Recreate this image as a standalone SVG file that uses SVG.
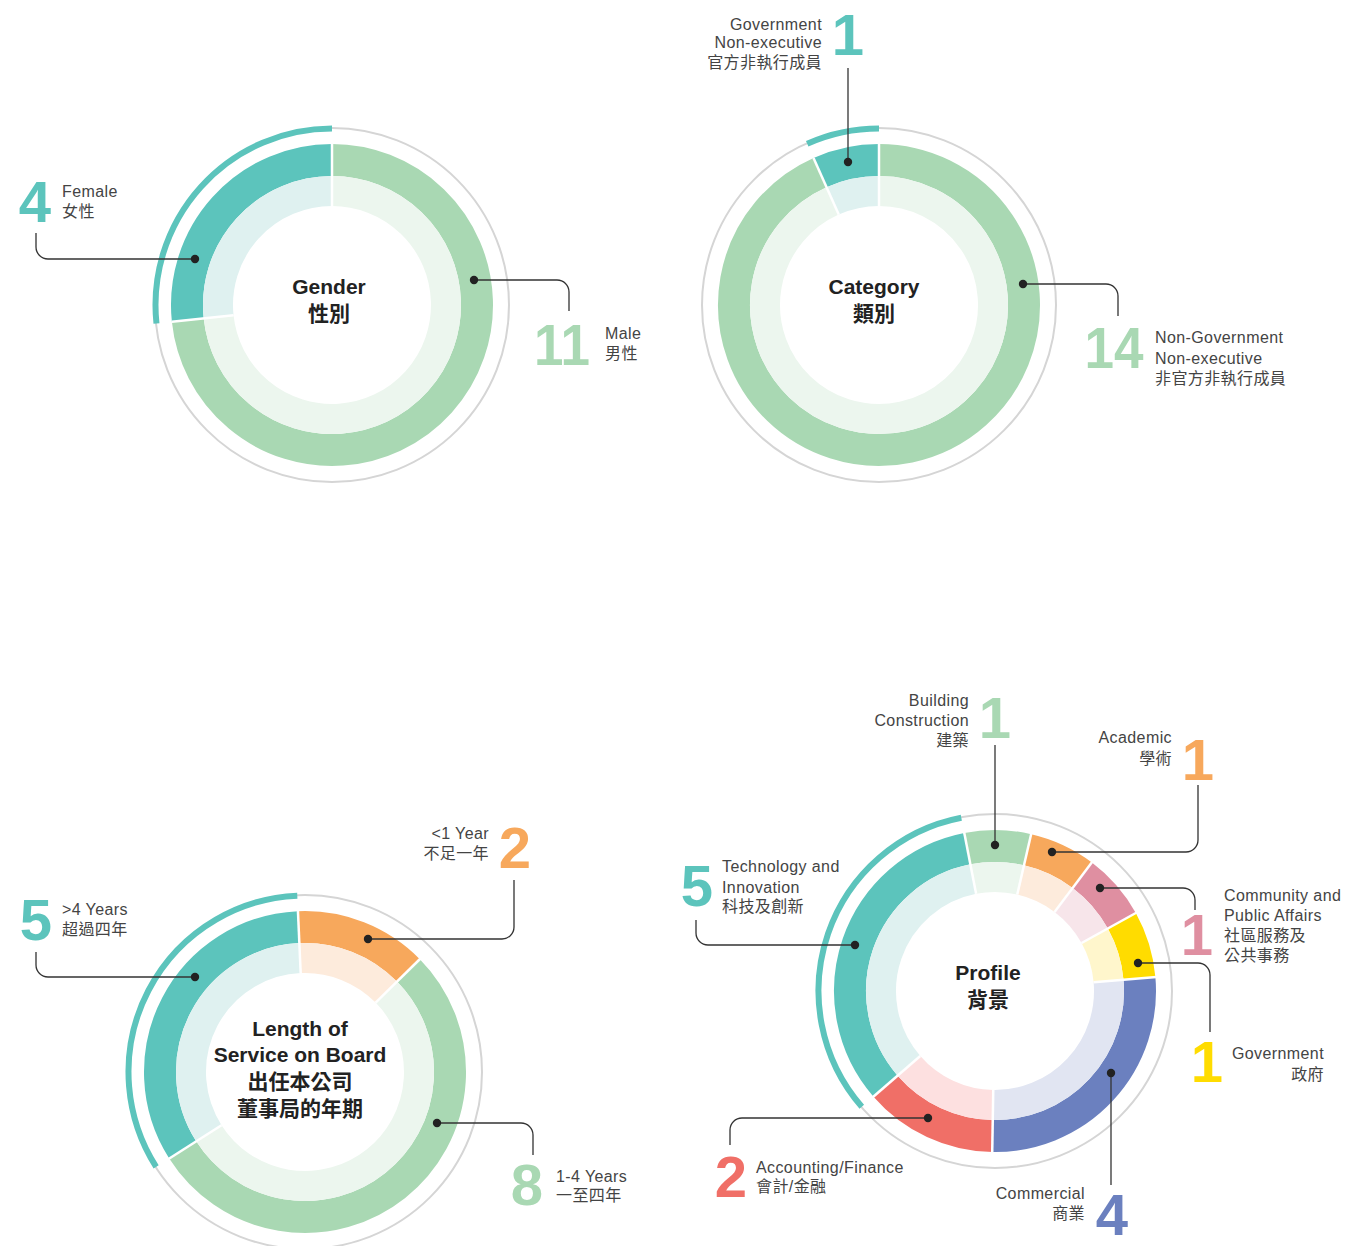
<svg xmlns="http://www.w3.org/2000/svg" width="1370" height="1246" viewBox="0 0 1370 1246">
<style>
.bg{fill:#ffffff}
.ring{fill:none;stroke:#d5d5d5;stroke-width:2}
.d{fill:none;stroke-width:32}
.l{fill:none;stroke-width:30}
.hl{fill:none;stroke:#5cc4bc;stroke-width:6}
.sep{stroke:#ffffff;stroke-width:2.5}
.teal{stroke:#5cc4bc}.tealL{stroke:#dff1f0}
.green{stroke:#a9d8b3}.greenL{stroke:#ecf6ee}
.orange{stroke:#f7a85c}.orangeL{stroke:#fdebdc}
.pink{stroke:#df8fa1}.pinkL{stroke:#f7e5ea}
.yellow{stroke:#ffdc00}.yellowL{stroke:#fff6cc}
.blue{stroke:#6b80bf}.blueL{stroke:#e1e5f2}
.red{stroke:#f06f67}.redL{stroke:#fde0e0}
.title{font-family:"Liberation Sans","Noto Sans CJK TC",sans-serif;font-weight:bold;font-size:21px;fill:#222;text-anchor:middle}
.lab{font-family:"Liberation Sans","Noto Sans CJK TC",sans-serif;font-size:16px;fill:#444;letter-spacing:0.4px}
.end{text-anchor:end}
.num{font-family:"Liberation Sans",sans-serif;font-weight:bold;font-size:58px;text-anchor:middle}
.lead{fill:none;stroke:#333;stroke-width:1.3}
.dot{fill:#222}
</style>
<rect class="bg" x="0" y="0" width="1370" height="1246"/>

<!-- Gender chart -->
<g id="gender-chart">
<circle class="ring" cx="332" cy="305" r="177"/>
<path class="d teal" d="M187.79,320.16 A145,145 0 0 1 332,160"/>
<path class="d green" d="M332,160 A145,145 0 1 1 187.79,320.16"/>
<path class="l tealL" d="M218.62,316.92 A114,114 0 0 1 332,191"/>
<path class="l greenL" d="M332,191 A114,114 0 1 1 218.62,316.92"/>
<line class="sep" x1="332" y1="206" x2="332" y2="143"/>
<line class="sep" x1="233.54" y1="315.35" x2="171.88" y2="321.83"/>
<path class="hl" d="M156.47,323.45 A176.5,176.5 0 0 1 332,128.5"/>
<text class="title" x="329" y="294">Gender</text>
<text class="title" x="329" y="321">性別</text>
</g>
<g id="gender-female">
<text class="num" x="35" y="222" fill="#5cc4bc">4</text>
<text class="lab" x="62" y="197">Female</text>
<text class="lab" x="62" y="217">女性</text>
</g>
<g id="gender-male">
<text class="num" x="562" y="365" fill="#a9d8b3" textLength="56" lengthAdjust="spacingAndGlyphs">11</text>
<text class="lab" x="605" y="339">Male</text>
<text class="lab" x="605" y="359">男性</text>
</g>

<!-- Category chart -->
<g id="category-chart">
<circle class="ring" cx="879" cy="305" r="177"/>
<path class="d teal" d="M820.02,172.54 A145,145 0 0 1 879,160"/>
<path class="d green" d="M879,160 A145,145 0 1 1 820.02,172.54"/>
<path class="l tealL" d="M832.63,200.86 A114,114 0 0 1 879,191"/>
<path class="l greenL" d="M879,191 A114,114 0 1 1 832.63,200.86"/>
<line class="sep" x1="879" y1="206" x2="879" y2="143"/>
<line class="sep" x1="838.73" y1="214.56" x2="813.51" y2="157.92"/>
<path class="hl" d="M807.21,143.76 A176.5,176.5 0 0 1 879,128.5"/>
<text class="title" x="874" y="294">Category</text>
<text class="title" x="874" y="321">類別</text>
</g>
<g id="category-gov">
<text class="num" x="848" y="55" fill="#5cc4bc">1</text>
<text class="lab end" x="822" y="30">Government</text>
<text class="lab end" x="822" y="48">Non-executive</text>
<text class="lab end" x="822" y="68">官方非執行成員</text>
</g>
<g id="category-nongov">
<text class="num" x="1114" y="368" fill="#a9d8b3" textLength="59" lengthAdjust="spacingAndGlyphs">14</text>
<text class="lab" x="1155" y="343">Non-Government</text>
<text class="lab" x="1155" y="364">Non-executive</text>
<text class="lab" x="1155" y="384">非官方非執行成員</text>
</g>

<!-- Length of service chart -->
<g id="length-chart">
<circle class="ring" cx="305" cy="1072" r="177"/>
<path class="d teal" d="M182.71,1149.91 A145,145 0 0 1 298.68,927.14"/>
<path class="d orange" d="M298.68,927.14 A145,145 0 0 1 408.42,970.37"/>
<path class="d green" d="M408.42,970.37 A145,145 0 1 1 182.71,1149.91"/>
<path class="l tealL" d="M208.85,1133.25 A114,114 0 0 1 300.03,958.11"/>
<path class="l orangeL" d="M300.03,958.11 A114,114 0 0 1 386.31,992.10"/>
<path class="l greenL" d="M386.31,992.10 A114,114 0 1 1 208.85,1133.25"/>
<line class="sep" x1="300.68" y1="973.09" x2="297.9" y2="910"/>
<line class="sep" x1="375.61" y1="1002.61" x2="420.5" y2="958.5"/>
<line class="sep" x1="221.50" y1="1125.19" x2="168.5" y2="1159"/>
<path class="hl" d="M156.14,1166.83 A176.5,176.5 0 0 1 297.30,895.67"/>
<text class="title" x="300" y="1036">Length of</text>
<text class="title" x="300" y="1062">Service on Board</text>
<text class="title" x="300" y="1089">出任本公司</text>
<text class="title" x="300" y="1116">董事局的年期</text>
</g>
<g id="length-over4">
<text class="num" x="36" y="940" fill="#5cc4bc">5</text>
<text class="lab" x="62" y="915">&gt;4 Years</text>
<text class="lab" x="62" y="935">超過四年</text>
</g>
<g id="length-under1">
<text class="num" x="515" y="868" fill="#f7a85c">2</text>
<text class="lab end" x="489" y="839">&lt;1 Year</text>
<text class="lab end" x="489" y="859">不足一年</text>
</g>
<g id="length-1to4">
<text class="num" x="527" y="1205" fill="#a9d8b3">8</text>
<text class="lab" x="556" y="1182">1-4 Years</text>
<text class="lab" x="556" y="1201">一至四年</text>
</g>

<!-- Profile chart -->
<g id="profile-chart">
<circle class="ring" cx="995" cy="991" r="177"/>
<path class="d green" d="M967.33,848.66 A145,145 0 0 1 1027.62,849.72"/>
<path class="d orange" d="M1027.62,849.72 A145,145 0 0 1 1082.26,875.20"/>
<path class="d pink" d="M1082.26,875.20 A145,145 0 0 1 1121.82,920.70"/>
<path class="d yellow" d="M1121.82,920.70 A145,145 0 0 1 1139.45,978.36"/>
<path class="d blue" d="M1139.45,978.36 A145,145 0 0 1 992.47,1135.98"/>
<path class="d red" d="M992.47,1135.98 A145,145 0 0 1 885.57,1086.13"/>
<path class="d teal" d="M885.57,1086.13 A145,145 0 0 1 967.33,848.66"/>
<path class="l greenL" d="M973.25,879.09 A114,114 0 0 1 1020.64,879.92"/>
<path class="l orangeL" d="M1020.64,879.92 A114,114 0 0 1 1063.61,899.96"/>
<path class="l pinkL" d="M1063.61,899.96 A114,114 0 0 1 1094.71,935.73"/>
<path class="l yellowL" d="M1094.71,935.73 A114,114 0 0 1 1108.57,981.06"/>
<path class="l blueL" d="M1108.57,981.06 A114,114 0 0 1 993.01,1104.98"/>
<path class="l redL" d="M993.01,1104.98 A114,114 0 0 1 908.96,1065.79"/>
<path class="l tealL" d="M908.96,1065.79 A114,114 0 0 1 973.25,879.09"/>
<line class="sep" x1="976.11" y1="893.82" x2="964.1" y2="832"/>
<line class="sep" x1="1017.27" y1="894.54" x2="1031.4" y2="833"/>
<line class="sep" x1="1054.58" y1="911.93" x2="1092.5" y2="861.5"/>
<line class="sep" x1="1081.59" y1="943.00" x2="1136.7" y2="912.5"/>
<line class="sep" x1="1093.62" y1="982.37" x2="1156.4" y2="976.9"/>
<line class="sep" x1="993.27" y1="1089.99" x2="992.2" y2="1153"/>
<line class="sep" x1="920.28" y1="1055.95" x2="872.7" y2="1097.3"/>
<path class="hl" d="M861.79,1106.80 A176.5,176.5 0 0 1 961.32,817.74"/>
<text class="title" x="988" y="980">Profile</text>
<text class="title" x="988" y="1007">背景</text>
</g>
<g id="profile-building">
<text class="num" x="995" y="738" fill="#a9d8b3">1</text>
<text class="lab end" x="969" y="706">Building</text>
<text class="lab end" x="969" y="726">Construction</text>
<text class="lab end" x="969" y="746">建築</text>
</g>
<g id="profile-academic">
<text class="num" x="1198" y="780" fill="#f7a85c">1</text>
<text class="lab end" x="1172" y="743">Academic</text>
<text class="lab end" x="1172" y="764">學術</text>
</g>
<g id="profile-community">
<text class="num" x="1197" y="955" fill="#df8fa1">1</text>
<text class="lab" x="1224" y="901">Community and</text>
<text class="lab" x="1224" y="921">Public Affairs</text>
<text class="lab" x="1224" y="941">社區服務及</text>
<text class="lab" x="1224" y="961">公共事務</text>
</g>
<g id="profile-government">
<text class="num" x="1207" y="1082" fill="#ffdc00">1</text>
<text class="lab end" x="1324" y="1059">Government</text>
<text class="lab end" x="1324" y="1080">政府</text>
</g>
<g id="profile-commercial">
<text class="num" x="1112" y="1235" fill="#6b80bf">4</text>
<text class="lab end" x="1085" y="1199">Commercial</text>
<text class="lab end" x="1085" y="1219">商業</text>
</g>
<g id="profile-accounting">
<text class="num" x="731" y="1197" fill="#f06f67">2</text>
<text class="lab" x="756" y="1173">Accounting/Finance</text>
<text class="lab" x="756" y="1192">會計/金融</text>
</g>
<g id="profile-tech">
<text class="num" x="697" y="906" fill="#5cc4bc">5</text>
<text class="lab" x="722" y="872">Technology and</text>
<text class="lab" x="722" y="893">Innovation</text>
<text class="lab" x="722" y="912">科技及創新</text>
</g>

<!-- Connectors -->
<g id="connectors">
<path class="lead" d="M195,259 H48 A12,12 0 0 1 36,247 V233"/>
<path class="lead" d="M474,280 H557 A12,12 0 0 1 569,292 V311"/>
<path class="lead" d="M848,162 V68"/>
<path class="lead" d="M1023,284 H1106 A12,12 0 0 1 1118,296 V316"/>
<path class="lead" d="M195,977 H48 A12,12 0 0 1 36,965 V952"/>
<path class="lead" d="M368,939 H502 A12,12 0 0 0 514,927 V880"/>
<path class="lead" d="M437,1123 H521 A12,12 0 0 1 533,1135 V1155"/>
<path class="lead" d="M995,845 V745"/>
<path class="lead" d="M1052,852 H1186 A12,12 0 0 0 1198,840 V785"/>
<path class="lead" d="M1100,888 H1183 A12,12 0 0 1 1195,900 V910"/>
<path class="lead" d="M1138,963 H1198 A12,12 0 0 1 1210,975 V1032"/>
<path class="lead" d="M1111,1073 V1185"/>
<path class="lead" d="M928,1118 H742 A12,12 0 0 0 730,1130 V1145"/>
<path class="lead" d="M855,945 H708 A12,12 0 0 1 696,933 V920"/>
<circle class="dot" cx="195" cy="259" r="4.2"/>
<circle class="dot" cx="474" cy="280" r="4.2"/>
<circle class="dot" cx="848" cy="162" r="4.2"/>
<circle class="dot" cx="1023" cy="284" r="4.2"/>
<circle class="dot" cx="195" cy="977" r="4.2"/>
<circle class="dot" cx="368" cy="939" r="4.2"/>
<circle class="dot" cx="437" cy="1123" r="4.2"/>
<circle class="dot" cx="995" cy="845" r="4.2"/>
<circle class="dot" cx="1052" cy="852" r="4.2"/>
<circle class="dot" cx="1100" cy="888" r="4.2"/>
<circle class="dot" cx="1138" cy="963" r="4.2"/>
<circle class="dot" cx="1111" cy="1073" r="4.2"/>
<circle class="dot" cx="928" cy="1118" r="4.2"/>
<circle class="dot" cx="855" cy="945" r="4.2"/>
</g>
</svg>
